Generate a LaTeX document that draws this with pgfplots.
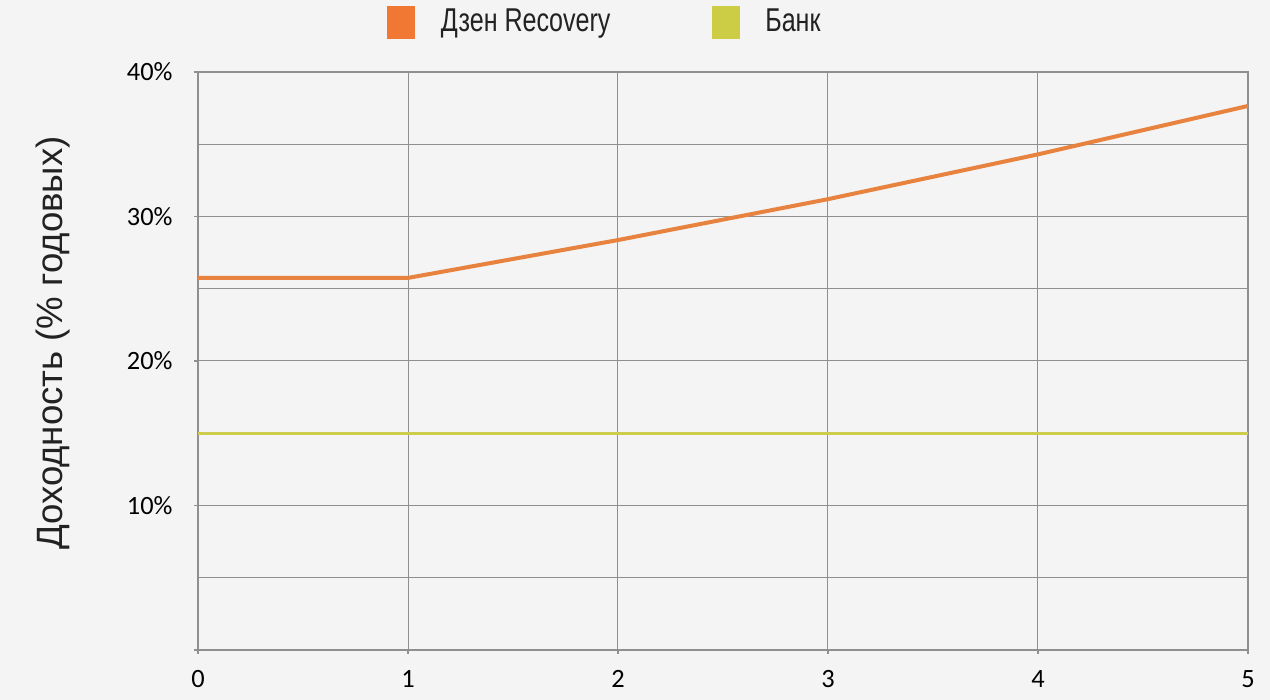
\documentclass[border=0pt]{standalone}
\usepackage{fontspec}
\usepackage{pgfplots}
\pgfplotsset{compat=1.18}
\setmainfont{Carlito}
\newfontfamily\legendfont[FakeStretch=0.76]{Liberation Sans}
\newfontfamily\labelfont{Liberation Sans}

\definecolor{bgcol}{HTML}{F4F4F4}
\definecolor{gridcol}{HTML}{8F8F8F}
\definecolor{dzenline}{HTML}{E8833F}
\definecolor{dzenkey}{HTML}{F07833}
\definecolor{bankline}{HTML}{CDCC4C}
\definecolor{bankkey}{HTML}{CDCD45}
\definecolor{txt}{HTML}{222222}

\begin{document}
\begin{tikzpicture}
  % whole page: 1270x700 px at 0.5pt per px
  \fill[bgcol] (0pt,0pt) rectangle (635pt,350pt);
  \path[use as bounding box] (0pt,0pt) rectangle (635pt,350pt);
  \begin{axis}[
    at={(99pt,25pt)}, anchor=south west,
    scale only axis, width=525pt, height=289pt,
    xmin=0, xmax=5, ymin=0, ymax=40,
    xtick={0,1,2,3,4,5},
    ytick={0,10,20,30,40},
    yticklabels={,10\%,20\%,30\%,40\%},
    minor ytick={5,15,25,35},
    grid=both,
    grid style={gridcol, line width=0.5pt},
    minor grid style={gridcol, line width=0.5pt},
    axis line style={gridcol, line width=0.6pt},
    tick style={gridcol, line width=0.6pt},
    major tick length=2pt, minor tick length=0pt,
    tick align=outside,
    xtick pos=bottom, ytick pos=left,
    /pgf/number format/assume math mode=true,
    tick label style={font=\fontsize{13.2}{15}\selectfont, text=black},
    xticklabel style={anchor=north, inner sep=0pt, yshift=-8pt},
    yticklabel style={anchor=east, inner sep=0pt, xshift=-10.5pt},
    ylabel={Доходность (\% годовых)},
    ylabel style={at={(axis description cs:-0.1381,0.531)}, anchor=center,
      font=\labelfont\fontsize{18.3}{21}\selectfont, text=txt},
    legend columns=2,
    legend style={at={(axis description cs:0.18,1.0865)}, anchor=west,
      draw=none, fill=none, inner sep=0pt, outer sep=0pt,
      nodes={inner sep=0pt, text=txt},
      font=\legendfont\fontsize{16.5}{19}\selectfont,
      column sep=13pt,
      /tikz/every even column/.append style={column sep=50.5pt}},
    legend cell align=left,
  ]
    \addlegendimage{legend image code/.code={\fill[dzenkey] (0pt,-8pt) rectangle (13.5pt,8pt);}}
    \addlegendentry{Дзен Recovery}
    \addlegendimage{legend image code/.code={\fill[bankkey] (0pt,-8pt) rectangle (13.5pt,8pt);}}
    \addlegendentry{Банк}

    \addplot[bankline, line width=1.6pt, forget plot] coordinates {
      (0,15.0) (1,15.0) (2,15.0) (3,15.0) (4,15.0) (5,15.0)
    };
    \addplot[dzenline, line width=2pt, forget plot] coordinates {
      (0,25.75) (1,25.75) (2,28.37) (3,31.2) (4,34.3) (5,37.65)
    };
  \end{axis}
\end{tikzpicture}
\end{document}
